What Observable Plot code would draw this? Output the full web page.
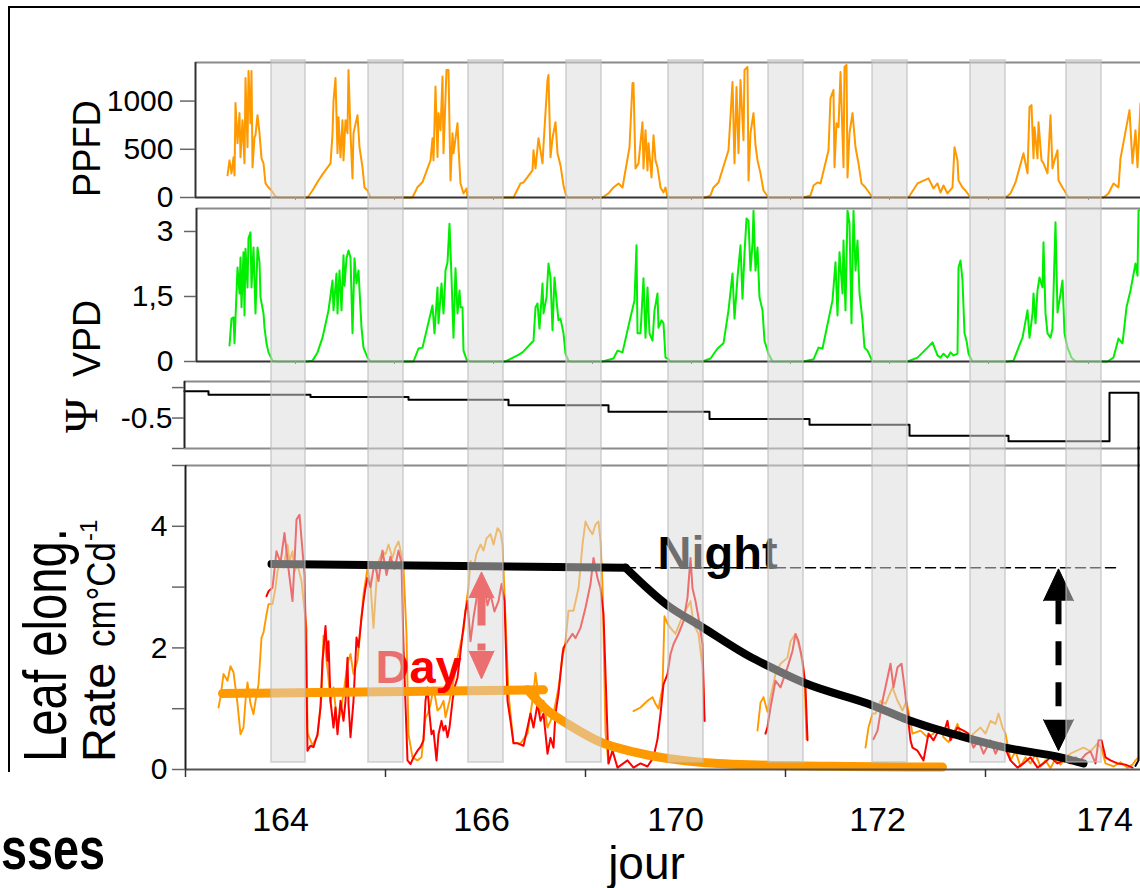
<!DOCTYPE html>
<html><head><meta charset="utf-8">
<script src="https://cdn.jsdelivr.net/npm/d3@7"></script>
<script src="https://cdn.jsdelivr.net/npm/@observablehq/plot@0.6"></script>
<style>
body{margin:0;background:#fff;}
#chart{position:relative;width:1140px;height:888px;overflow:hidden;font-family:"Liberation Sans",Arial,sans-serif;background:#fff;}
#chart svg{position:absolute;left:0;top:0;overflow:visible !important;background:transparent !important;max-width:none !important;}
.lab{position:absolute;white-space:nowrap;line-height:1;transform-origin:0 0;color:#000;font-family:"Liberation Sans",Arial,sans-serif;}
</style></head><body><div id="chart"></div>
<script>
// ---------- DATA (x = jour, fractional day) ----------
const ppfd = [[163.42,230],[163.44,385],[163.46,250],[163.48,417],[163.49,229],[163.50,980],[163.52,563],[163.54,875],[163.55,417],[163.57,802],[163.59,354],[163.60,1240],[163.62,521],[163.63,1313],[163.65,771],[163.66,1313],[163.67,313],[163.69,625],[163.70,646],[163.72,854],[163.74,667],[163.76,406],[163.78,354],[163.80,146],[163.83,104],[163.86,73],[163.90,10],[163.93,0],
[164.22,0],[164.27,73],[164.32,160],[164.37,240],[164.45,354],[164.47,660],[164.48,1000],[164.50,1240],[164.52,458],[164.53,833],[164.55,417],[164.57,802],[164.58,385],[164.60,802],[164.62,667],[164.63,1323],[164.65,667],[164.67,198],[164.68,667],[164.72,854],[164.74,521],[164.77,313],[164.79,104],[164.82,73],[164.85,0],
[165.27,0],[165.32,107],[165.37,160],[165.45,385],[165.47,615],[165.48,385],[165.50,1150],[165.52,420],[165.53,875],[165.55,698],[165.57,1254],[165.58,458],[165.61,1323],[165.63,1323],[165.65,177],[165.67,667],[165.68,458],[165.72,771],[165.73,521],[165.75,146],[165.78,42],[165.81,94],[165.82,0],
[166.28,0],[166.33,104],[166.35,146],[166.38,156],[166.47,281],[166.48,490],[166.50,302],[166.53,615],[166.57,354],[166.58,542],[166.62,1219],[166.63,1271],[166.65,417],[166.67,615],[166.70,781],[166.72,458],[166.75,333],[166.78,125],[166.80,42],[166.82,0],
[167.17,0],[167.23,42],[167.28,104],[167.33,146],[167.37,104],[167.44,521],[167.47,1188],[167.48,1188],[167.50,302],[167.53,354],[167.57,781],[167.58,302],[167.60,698],[167.62,281],[167.63,563],[167.66,208],[167.68,646],[167.70,385],[167.72,313],[167.75,104],[167.78,52],[167.80,104],[167.82,0],
[168.20,0],[168.25,21],[168.28,104],[168.33,156],[168.43,490],[168.47,1198],[168.49,354],[168.51,1146],[168.53,458],[168.55,1219],[168.58,594],[168.59,1323],[168.62,1354],[168.63,177],[168.65,667],[168.68,875],[168.70,542],[168.72,385],[168.75,250],[168.78,73],[168.83,0],
[169.18,0],[169.25,21],[169.28,125],[169.32,156],[169.35,146],[169.43,490],[169.45,1031],[169.48,1115],[169.49,313],[169.51,771],[169.53,729],[169.55,1302],[169.58,313],[169.59,1354],[169.61,1375],[169.62,208],[169.64,667],[169.67,875],[169.70,521],[169.73,354],[169.76,146],[169.80,104],[169.87,0],
[170.23,0],[170.32,146],[170.43,198],[170.48,94],[170.52,146],[170.55,52],[170.58,125],[170.62,42],[170.67,104],[170.69,521],[170.72,385],[170.73,177],[170.77,104],[170.80,73],[170.85,0],
[171.20,0],[171.25,42],[171.30,156],[171.38,458],[171.42,250],[171.44,938],[171.46,958],[171.48,406],[171.49,729],[171.52,406],[171.53,781],[171.56,385],[171.58,354],[171.62,250],[171.65,854],[171.67,302],[171.69,385],[171.72,490],[171.73,177],[171.77,104],[171.80,52],[171.83,0],
[172.18,0],[172.23,42],[172.28,146],[172.33,104],[172.35,406],[172.44,906],[172.47,354],[172.50,698],[172.52,313],[172.55,979]];

const vpd = [[163.44,0.37],[163.46,0.99],[163.48,1.02],[163.49,0.42],[163.52,2.17],[163.54,1.57],[163.55,2.40],[163.56,1.25],[163.58,2.52],[163.59,1.06],[163.60,2.60],[163.62,1.71],[163.63,2.84],[163.65,2.98],[163.66,1.71],[163.68,2.63],[163.70,1.11],[163.72,2.63],[163.74,2.29],[163.75,1.48],[163.78,1.11],[163.79,0.78],[163.81,0.42],[163.83,0.21],[163.87,0.02],[163.92,0],
[164.21,0],[164.27,0.02],[164.32,0.21],[164.37,0.55],[164.43,1.18],[164.47,1.87],[164.48,1.18],[164.51,2.03],[164.52,1.11],[164.54,2.10],[164.56,1.18],[164.58,2.45],[164.59,1.75],[164.61,2.38],[164.63,2.56],[164.65,2.40],[164.67,0.65],[164.69,2.38],[164.71,1.80],[164.73,2.10],[164.76,0.78],[164.78,0.32],[164.82,0.09],[164.85,0],
[165.28,0],[165.33,0.30],[165.37,0.32],[165.47,1.29],[165.49,0.65],[165.52,1.71],[165.53,0.88],[165.56,1.80],[165.58,1.11],[165.59,1.52],[165.60,2.10],[165.62,2.29],[165.64,3.18],[165.66,1.94],[165.68,0.55],[165.70,2.15],[165.72,1.11],[165.74,1.64],[165.75,1.25],[165.77,1.25],[165.78,0.25],[165.81,0.05],[165.85,0],
[166.20,0],[166.32,0.14],[166.37,0.21],[166.48,0.48],[166.50,1.25],[166.52,1.34],[166.54,0.76],[166.57,1.80],[166.58,1.11],[166.61,1.48],[166.63,2.26],[166.65,1.94],[166.67,0.72],[166.69,1.94],[166.71,1.41],[166.73,0.95],[166.75,0.99],[166.78,0.65],[166.80,0.18],[166.83,0.02],[166.85,0],
[167.17,0],[167.28,0.07],[167.32,0.25],[167.37,0.21],[167.45,1.02],[167.49,1.41],[167.51,2.68],[167.52,0.65],[167.55,0.65],[167.58,1.92],[167.60,0.55],[167.62,1.71],[167.64,0.65],[167.67,0.48],[167.69,1.18],[167.72,1.57],[167.73,0.78],[167.76,0.95],[167.78,0.88],[167.80,0.09],[167.82,0.07],[167.85,0],
[168.17,0],[168.25,0.07],[168.32,0.30],[168.38,0.42],[168.43,1.18],[168.47,2.03],[168.49,0.99],[168.52,1.94],[168.55,2.68],[168.57,1.45],[168.59,2.49],[168.61,3.30],[168.63,3.25],[168.65,2.10],[168.67,2.72],[168.68,3.48],[168.70,2.10],[168.72,2.63],[168.74,1.48],[168.77,1.18],[168.79,0.48],[168.83,0.18],[168.87,0],
[169.18,0],[169.28,0.05],[169.33,0.32],[169.37,0.30],[169.47,1.41],[169.50,2.29],[169.52,1.06],[169.54,2.52],[169.57,1.57],[169.58,2.79],[169.60,1.18],[169.62,3.48],[169.64,3.18],[169.66,0.88],[169.68,3.48],[169.70,2.10],[169.72,2.79],[169.74,1.57],[169.77,0.95],[169.79,0.32],[169.82,0.25],[169.87,0],
[170.22,0],[170.32,0.09],[170.42,0.32],[170.47,0.44],[170.52,0.14],[170.55,0.09],[170.58,0.18],[170.62,0.09],[170.65,0.21],[170.68,0.14],[170.72,0.18],[170.73,2.17],[170.75,2.33],[170.77,1.87],[170.79,0.65],[170.81,0.48],[170.83,0.18],[170.87,0],
[171.22,0],[171.28,0.02],[171.33,0.32],[171.37,0.55],[171.42,1.18],[171.44,0.55],[171.47,1.11],[171.48,1.57],[171.50,0.88],[171.52,1.64],[171.54,1.94],[171.57,1.71],[171.58,2.75],[171.60,1.11],[171.62,0.65],[171.65,0.55],[171.67,0.76],[171.70,3.21],[171.72,1.13],[171.74,1.41],[171.77,1.87],[171.79,0.65],[171.82,0.32],[171.86,0.09],[171.90,0],
[172.22,0],[172.28,0.09],[172.33,0.53],[172.37,0.42],[172.41,1.25],[172.45,1.64],[172.50,2.26],[172.52,1.98],[172.53,3.48],[172.55,3.50]];

const psi = [[162.99,-0.28],[163.23,-0.309],[164.25,-0.328],[165.23,-0.349],[166.23,-0.395],[167.23,-0.449],[168.24,-0.508],[169.24,-0.556],[170.24,-0.645],[171.23,-0.691],[172.24,-0.293],[172.53,-0.293],[172.53,-0.75]];
// final plunge of the Ψ trace, continued through the elongation panel (in its units)
const psiPlunge = [[172.53,5.3],[172.53,0.15],[172.50,0.06]];

const elongOrange = [[163.33,1.02],[163.35,1.19],[163.38,1.57],[163.42,1.46],[163.45,1.70],[163.48,1.60],[163.52,1.08],[163.55,0.58],[163.58,0.69],[163.60,1.13],[163.62,1.43],[163.65,1.08],[163.68,0.91],[163.70,1.13],[163.73,1.40],[163.76,2.17],[163.78,2.25],[163.81,2.55],[163.83,2.72],
[163.87,2.72],[163.90,2.99],[163.92,3.26],[163.95,3.43],[163.98,3.32],[164.02,3.70],[164.04,3.43],[164.07,3.59],[164.09,3.26],[164.12,3.37],[164.16,3.10],[164.18,2.77],[164.21,2.33],
[164.22,0.60],[164.27,0.40],[164.32,0.55],[164.36,1.20],[164.38,2.20],[164.41,1.80],[164.43,1.50],[164.45,1.10],[164.48,1.35],[164.52,0.70],[164.55,0.95],[164.58,1.25],[164.62,1.75],[164.65,1.90],[164.68,1.57],[164.72,1.80],[164.75,2.33],[164.78,2.88],[164.82,3.31],
[164.85,3.04],[164.88,2.33],[164.92,3.37],[164.97,3.59],[165.00,3.54],[165.03,3.70],[165.07,3.48],[165.10,3.65],[165.13,3.75],[165.16,3.54],[165.18,3.32],
[165.21,2.22],[165.23,0.58],[165.27,0.20],[165.32,0.15],[165.36,0.20],[165.40,0.85],[165.42,0.91],[165.45,1.07],[165.48,1.35],[165.52,0.97],[165.55,1.02],[165.58,1.13],[165.60,0.86],[165.64,1.13],[165.68,1.46],[165.72,1.84],[165.75,2.06],[165.78,2.28],[165.81,2.77],[165.83,2.99],
[165.85,3.43],[165.88,3.30],[165.91,3.55],[165.95,3.70],[165.98,3.60],[166.01,3.80],[166.05,3.87],[166.08,3.70],[166.12,3.97],[166.15,3.90],[166.17,3.70],
[166.19,2.90],[166.23,1.25],[166.28,0.44],[166.35,0.43],[166.42,0.59],[166.48,1.25],[166.50,1.59],[166.52,1.34],[166.55,0.92],[166.58,1.13],[166.62,0.69],[166.65,0.80],[166.68,0.92],[166.73,1.34],[166.77,1.84],[166.80,2.11],
[166.83,2.61],[166.88,2.61],[166.93,2.98],[166.97,3.70],[167.00,4.08],[167.03,3.97],[167.07,3.87],[167.10,4.03],[167.13,4.08],[167.15,3.75],[167.17,3.05],[167.18,2.23],
[167.20,0.60],[167.23,0.10],[167.30,null],
[167.48,0.96],[167.55,1.02],[167.62,1.13],[167.67,1.19],[167.70,1.08],[167.73,1.00],[167.77,1.35],[167.79,2.52],[167.82,2.40],
[167.85,2.33],[167.90,2.23],[167.95,2.44],[168.00,2.61],[168.05,2.77],[168.08,2.39],[168.13,2.23],[168.17,1.68],[168.19,0.80],[168.40,null],
[168.72,0.64],[168.75,1.10],[168.78,1.19],[168.82,0.95],
[168.85,1.19],[168.90,1.57],[168.95,1.74],[169.02,1.84],[169.05,2.11],[169.10,2.23],[169.15,1.95],[169.19,1.51],[169.21,0.50],[169.50,null],
[169.80,0.36],[169.83,0.69],[169.87,0.92],
[169.90,0.92],[169.95,1.13],[170.00,1.08],[170.07,1.35],[170.12,1.13],[170.17,0.97],[170.21,1.13],
[170.27,0.59],[170.35,0.64],[170.42,0.53],[170.48,0.59],[170.55,0.70],[170.58,0.53],[170.63,0.45],[170.68,0.59],[170.72,0.75],[170.75,0.59],[170.82,0.48],
[170.88,0.59],[170.95,0.69],[171.00,0.59],[171.05,0.80],[171.10,0.75],[171.13,0.92],[171.17,0.69],[171.20,0.59],
[171.25,0.15],[171.30,0.30],[171.35,0.05],[171.40,0.20],[171.45,0.10],[171.50,0.25],[171.55,0.05],[171.60,0.15],[171.65,0.02],[171.70,0.18],[171.75,0.08],[171.80,0.20],
[171.85,0.26],[171.90,0.30],[171.98,0.36],[172.05,0.30],[172.12,0.43],[172.16,0.35],
[172.20,0.10],[172.28,0.05],[172.35,0.12],[172.42,0.03],[172.47,0.08],[172.50,0.15],[172.53,0.20]];

const elongRed = [[163.81,2.85],[163.83,2.93],
[163.87,2.99],[163.91,3.59],[163.95,3.40],[163.99,3.89],[164.03,3.30],[164.07,2.77],[164.09,3.40],[164.11,4.11],[164.14,4.19],[164.17,3.60],[164.19,3.20],[164.205,2.00],[164.22,0.31],
[164.25,0.39],[164.28,0.37],[164.32,0.58],[164.35,1.02],[164.37,1.79],[164.40,2.36],[164.42,1.79],[164.43,2.11],[164.45,1.13],[164.48,0.69],[164.50,1.02],[164.52,0.58],[164.55,1.13],[164.58,0.80],[164.60,1.13],[164.62,1.84],[164.63,1.08],[164.65,0.53],[164.68,1.13],[164.71,2.17],[164.73,2.01],[164.76,2.50],[164.78,2.77],[164.80,2.99],[164.82,3.15],
[164.85,3.00],[164.89,3.40],[164.93,3.10],[164.97,3.60],[165.01,3.20],[165.05,3.50],[165.09,3.30],[165.13,3.60],[165.16,3.40],[165.18,2.00],
[165.22,0.15],[165.25,0.09],[165.28,0.20],[165.32,0.31],[165.35,0.37],[165.38,0.48],[165.40,1.13],[165.42,1.35],[165.44,0.91],[165.46,0.58],[165.48,0.64],[165.51,0.15],[165.53,0.58],[165.56,0.80],[165.58,0.64],[165.60,0.72],[165.62,0.53],[165.64,0.69],[165.67,1.13],[165.69,1.35],[165.72,1.51],[165.74,1.79],[165.77,2.22],[165.80,2.61],[165.82,2.77],
[165.85,2.11],[165.88,2.50],[165.92,2.90],[165.95,2.98],[165.98,3.10],[166.02,2.70],[166.05,2.88],[166.09,2.60],[166.13,2.77],[166.16,3.05],[166.19,2.77],
[166.22,1.13],[166.25,0.80],[166.28,0.43],[166.32,0.43],[166.38,0.39],[166.42,0.69],[166.45,0.92],[166.48,0.69],[166.52,1.08],[166.55,0.80],[166.58,0.92],[166.62,0.26],[166.65,0.52],[166.68,0.36],[166.70,0.92],[166.73,1.25],[166.77,1.90],[166.78,2.00],
[166.82,2.11],[166.87,2.23],[166.90,2.16],[166.95,2.33],[167.00,2.66],[167.05,3.05],[167.08,3.48],[167.12,3.15],[167.15,2.98],[167.18,2.56],[167.21,1.08],
[167.22,0.59],[167.23,0.10],[167.27,0.31],[167.32,0.03],[167.42,0.15],[167.48,0.03],[167.55,0.10],[167.62,0.05],[167.68,0.20],[167.72,0.50],[167.75,0.91],[167.78,1.40],[167.82,1.57],
[167.85,1.90],[167.88,2.06],[167.93,2.23],[167.98,2.44],[168.02,2.83],[168.05,3.48],[168.07,2.98],[168.10,2.77],[168.13,2.50],[168.17,2.06],[168.19,0.80],[168.50,null],
[168.80,0.59],[168.82,0.70],
[168.85,1.02],[168.90,1.46],[168.95,1.35],[169.02,1.68],[169.07,1.95],[169.10,2.23],[169.13,2.11],[169.17,1.79],[169.20,1.35],[169.22,0.48],[169.50,null],
[169.88,0.50],[169.92,0.64],[169.97,1.13],[170.02,1.51],[170.05,1.74],[170.08,1.35],[170.12,1.68],[170.16,1.74],[170.19,1.35],[170.22,0.92],
[170.25,0.48],[170.27,0.36],[170.32,0.31],[170.38,0.15],[170.43,0.59],[170.48,0.48],[170.53,0.64],[170.58,0.59],[170.62,0.80],[170.65,0.48],[170.72,0.69],[170.78,0.64],[170.83,0.59],
[170.88,0.36],[170.93,0.48],[170.98,0.26],[171.05,0.48],[171.10,0.26],[171.15,0.43],[171.20,0.34],
[171.25,0.15],[171.32,0.03],[171.38,0.10],[171.45,0.20],[171.52,0.03],[171.58,0.10],[171.65,0.20],[171.72,0.10],[171.78,0.15],
[171.85,0.10],[171.90,0.20],[171.95,0.15],[172.00,0.25],[172.05,0.30],[172.10,0.10],[172.13,0.48],[172.16,0.48],
[172.20,0.20],[172.25,0.15],[172.32,0.10],[172.40,0.08],[172.47,0.03]];

const nightFlat = [[163.86,3.38],[167.40,3.32]];
const nightDecline = [[167.40,3.32],[167.82,2.70],[168.15,2.36],[168.65,1.85],[168.83,1.70],[169.18,1.43],[169.88,1.05],[170.22,0.82],[170.75,0.55],[171.20,0.36],[171.75,0.20],[171.98,0.10]];
const dayFlat = [[163.37,1.25],[166.58,1.31]];
const dayDecline = [[166.42,1.31],[166.62,0.97],[166.82,0.75],[167.15,0.45],[167.48,0.29],[167.82,0.18],[168.15,0.12],[168.82,0.07],[169.65,0.05],[170.57,0.04]];
const nightRef = [[167.40,3.32],[172.32,3.32]];

const redArrow = [{x:165.96, top:3.25, bottom:1.49}];
const blackArrow = [{x:171.73, top:3.30, bottom:0.31}];
const annotations = [{text:"Night", x:167.72, y:3.30}, {text:"Day", x:164.90, y:1.43}];

const nightStart = [163.86,164.83,165.83,166.81,167.83,168.83,169.87,170.85,171.81];
const nightEnd   = [164.20,165.18,166.18,167.16,168.18,169.18,170.22,171.20,172.16];
const nights = nightStart.map((s,i)=>({s, e: nightEnd[i]}));

const ppfdTicks = [0,500,1000], ppfdTickLabels = ["0","500","1000"];
const vpdTicks = [0,1.5,3], vpdTickLabels = ["0","1,5","3"];
const psiTicks = [-0.25,-0.5,-0.75], psiTickLabels = ["","-0.5",""];
const elongTicks = [0,1,2,3,4,5], elongTickLabels = ["0","","2","","4",""];
const dayTicks = [163,165,167,169,171];
const minorTicks = [164.10,165.09,166.08,167.07,168.06,169.05,170.04,171.03,172.03];
const dayLabels = ["164","166","170","172","174"];
const dayLabelPos = [163.95,165.96,167.90,169.92,172.19];
const xTitle = [{text:"jour", x:167.61}];

// ---------- helpers ----------
const X = d => d[0], Y = d => d[1];
const lab = (ticks, labels) => { const m = new Map(ticks.map((t,i)=>[t,labels[i]])); return d => m.get(d) ?? ""; };
const base = {width:1140, marginRight:0, style:{fontFamily:"Liberation Sans, Arial, sans-serif", background:"transparent", overflow:"visible"}};
const chart = document.getElementById("chart");
const GRAY = "#8a8a8a";

// PPFD
chart.append(Plot.plot({...base, height:200, marginTop:62, marginBottom:3, marginLeft:195,
  x:{domain:[163.10,172.55]}, y:{domain:[0,1400]},
  marks:[
    Plot.ruleY([1400],{stroke:GRAY, strokeWidth:2}),
    Plot.line(ppfd,{x:X, y:Y, stroke:"#ff9900", strokeWidth:2}),
    Plot.ruleY([0],{stroke:"#333", strokeWidth:2}),
    Plot.ruleX([163.10],{stroke:"#333", strokeWidth:2}),
    Plot.axisY({ticks:ppfdTicks, tickFormat:lab(ppfdTicks,ppfdTickLabels), tickSize:15, tickPadding:7, fontSize:30, stroke:"#666", strokeWidth:1.5, fill:"#000", label:null}),
    Plot.axisX({ticks:minorTicks, tickSize:3, tickFormat:()=>"", stroke:"#555", label:null})
  ]}));

// VPD
chart.append(Plot.plot({...base, height:364, marginTop:208, marginBottom:3, marginLeft:196,
  x:{domain:[163.11,172.55]}, y:{domain:[0,3.53]},
  marks:[
    Plot.ruleY([3.53],{stroke:GRAY, strokeWidth:2}),
    Plot.line(vpd,{x:X, y:Y, stroke:"#00ee00", strokeWidth:2}),
    Plot.ruleY([0],{stroke:"#333", strokeWidth:2}),
    Plot.ruleX([163.11],{stroke:"#333", strokeWidth:2}),
    Plot.axisY({ticks:vpdTicks, tickFormat:lab(vpdTicks,vpdTickLabels), tickSize:12, tickPadding:11, fontSize:30, stroke:"#666", strokeWidth:1.5, fill:"#000", label:null}),
    Plot.axisX({ticks:minorTicks, tickSize:3, tickFormat:()=>"", stroke:"#555", label:null})
  ]}));

// Psi
chart.append(Plot.plot({...base, height:451, marginTop:381, marginBottom:3, marginLeft:184,
  x:{domain:[162.99,172.55], axis:null}, y:{domain:[-0.75,-0.2]},
  marks:[
    Plot.ruleY([-0.2],{stroke:GRAY, strokeWidth:2}),
    Plot.ruleY([-0.75],{stroke:GRAY, strokeWidth:2}),
    Plot.line(psi,{x:X, y:Y, stroke:"#000", strokeWidth:2, curve:"step-after"}),
    Plot.ruleX([162.99],{stroke:"#222", strokeWidth:2}),
    Plot.axisY({ticks:psiTicks, tickFormat:lab(psiTicks,psiTickLabels), tickSize:12, tickPadding:0, fontSize:30, stroke:"#666", strokeWidth:1.5, fill:"#000", label:null})
  ]}));

// Leaf elongation
chart.append(Plot.plot({...base, height:888, marginTop:465, marginBottom:119, marginLeft:185,
  x:{domain:[163,172.55]}, y:{domain:[0,5]},
  marks:[
    Plot.ruleY([5],{stroke:GRAY, strokeWidth:2}),
    Plot.line(elongOrange,{x:X, y:Y, stroke:"#ff9900", strokeWidth:1.9}),
    Plot.line(elongRed,{x:X, y:Y, stroke:"#ff0000", strokeWidth:2}),
    Plot.line(psiPlunge,{x:X, y:Y, stroke:"#000", strokeWidth:2}),
    Plot.line(nightRef,{x:X, y:Y, stroke:"#000", strokeWidth:1.5, strokeDasharray:"10,5"}),
    Plot.line(dayFlat,{x:X, y:Y, stroke:"#ff9900", strokeWidth:9}),
    Plot.line(dayDecline,{x:X, y:Y, stroke:"#ff9900", strokeWidth:9, curve:"monotone-x"}),
    Plot.line(nightFlat,{x:X, y:Y, stroke:"#000", strokeWidth:8}),
    Plot.line(nightDecline,{x:X, y:Y, stroke:"#000", strokeWidth:8, curve:"monotone-x"}),
    // arrows
    Plot.ruleX(redArrow,{x:"x", y1:"top", y2:"bottom", insetTop:26, insetBottom:28, stroke:"#ff0000", strokeWidth:8, strokeDasharray:"28,18"}),
    Plot.vector(redArrow,{x:"x", y:"top", length:26, r:12.5, rotate:0, anchor:"end", shape:"spike", fill:"#ff0000", stroke:"#ff0000", strokeWidth:1}),
    Plot.vector(redArrow,{x:"x", y:"bottom", length:28, r:12.5, rotate:180, anchor:"end", shape:"spike", fill:"#ff0000", stroke:"#ff0000", strokeWidth:1}),
    Plot.ruleX(blackArrow,{x:"x", y1:"top", y2:"bottom", insetTop:32, insetBottom:31, stroke:"#000", strokeWidth:6, strokeDasharray:"24,17"}),
    Plot.vector(blackArrow,{x:"x", y:"top", length:32, r:15, rotate:0, anchor:"end", shape:"spike", fill:"#000", stroke:"#000", strokeWidth:1}),
    Plot.vector(blackArrow,{x:"x", y:"bottom", length:31, r:15, rotate:180, anchor:"end", shape:"spike", fill:"#000", stroke:"#000", strokeWidth:1}),
    Plot.text(annotations.slice(0,1),{x:"x", y:"y", text:"text", textAnchor:"start", lineAnchor:"bottom", fontSize:47, fontWeight:"bold", fill:"#000"}),
    Plot.text(annotations.slice(1),{x:"x", y:"y", text:"text", textAnchor:"start", lineAnchor:"bottom", fontSize:47, fontWeight:"bold", fill:"#ff0000"}),
    // axes
    Plot.ruleY([0],{stroke:"#555", strokeWidth:2}),
    Plot.ruleX([163],{stroke:"#222", strokeWidth:2}),
    Plot.axisY({ticks:elongTicks, tickFormat:lab(elongTicks,elongTickLabels), tickSize:13, tickPadding:5, fontSize:30, stroke:"#666", strokeWidth:1.5, fill:"#000", label:null}),
    Plot.axisX({ticks:dayTicks, tickSize:8, tickFormat:()=>"", stroke:"#333", strokeWidth:1.5, label:null}),
    Plot.text(dayLabels,{x:(d,i)=>dayLabelPos[i], text:d=>d, frameAnchor:"bottom", dy:51, lineAnchor:"middle", fontSize:34, fill:"#000"}),
    Plot.text(xTitle,{x:"x", text:"text", frameAnchor:"bottom", dy:109, lineAnchor:"bottom", fontSize:46, fill:"#000"})
  ]}));

// Night bands overlay (spans all panels)
chart.append(Plot.plot({...base, height:762, marginTop:60, marginBottom:0, marginLeft:185,
  x:{domain:[163,172.55], axis:null},
  marks:[
    Plot.rect(nights,{x1:"s", x2:"e", fill:"rgb(218,218,218)", fillOpacity:0.51, stroke:"rgb(185,185,185)", strokeOpacity:0.5, strokeWidth:2})
  ]}));

// Labels and frame (HTML)
chart.insertAdjacentHTML("beforeend", `
<div style="position:absolute;left:8px;top:6px;width:1140px;height:766px;border-left:2.5px solid #000;border-top:2.5px solid #000;box-sizing:border-box"></div>
<div class="lab" style="left:67px;top:197px;font-size:39px;transform:rotate(-90deg) scaleX(0.93)">PPFD</div>
<div class="lab" style="left:67px;top:377px;font-size:39px;transform:rotate(-90deg) scaleX(0.96)">VPD</div>
<div class="lab" style="left:58px;top:433px;font-size:47px;font-family:'Liberation Serif','Times New Roman',serif;transform:rotate(-90deg)">Ψ</div>
<div class="lab" style="left:15px;top:762px;font-size:61px;transform:rotate(-90deg) scaleX(0.775)">Leaf elong.</div>
<div class="lab" style="left:75px;top:762px;font-size:47px;transform:rotate(-90deg)">Rate</div>
<div class="lab" style="left:81px;top:647px;font-size:40px;transform:rotate(-90deg) scaleX(0.87)">cm°Cd</div>
<div class="lab" style="left:77px;top:541px;font-size:24px;transform:rotate(-90deg)">-1</div>
<div class="lab" style="left:1px;top:819px;font-size:60px;font-weight:bold;transform:scaleX(0.78)">sses</div>
`);
</script></body></html>
